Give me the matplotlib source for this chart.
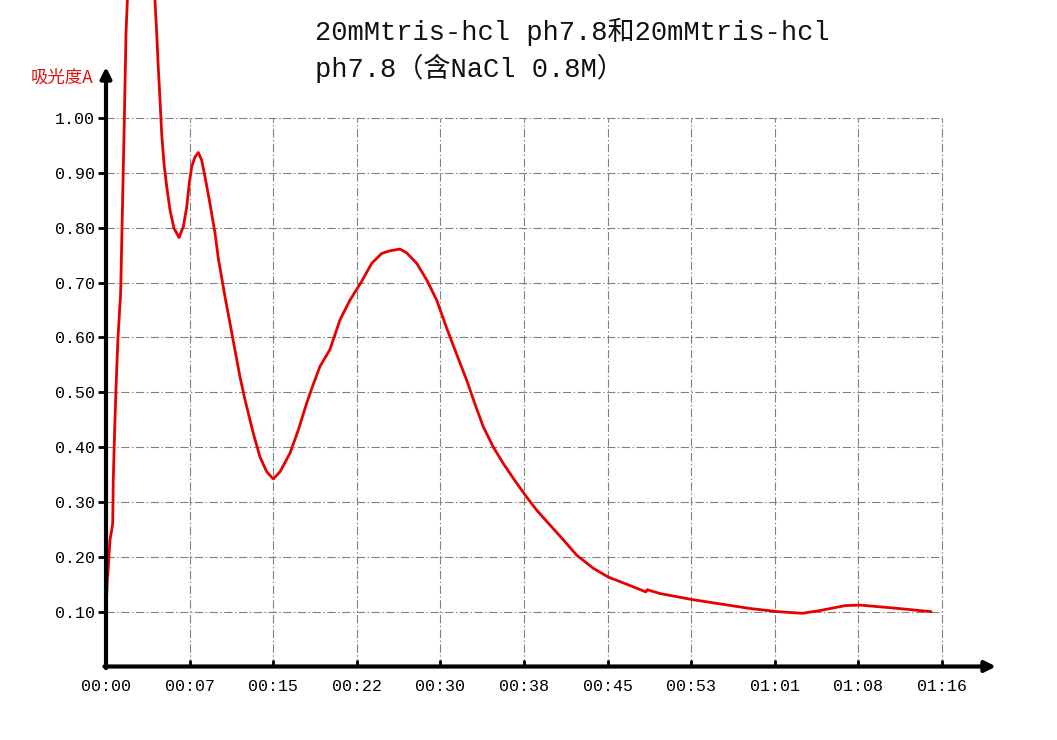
import matplotlib
matplotlib.use("Agg")
import matplotlib.pyplot as plt

plt.rcParams['lines.scale_dashes'] = False

title_line1 = "20mMtris-hcl ph7.8和20mMtris-hcl"
title_line2 = "ph7.8（含NaCl 0.8M）"
y_label = "吸光度A"

x_tick_minutes = [0, 7.6, 15.2, 22.8, 30.4, 38.0, 45.6, 53.2, 60.8, 68.4, 76.0]
x_tick_labels = ["00:00", "00:07", "00:15", "00:22", "00:30", "00:38",
                 "00:45", "00:53", "01:01", "01:08", "01:16"]
y_tick_values = [0.10, 0.20, 0.30, 0.40, 0.50, 0.60, 0.70, 0.80, 0.90, 1.00]
y_tick_labels = ["0.10", "0.20", "0.30", "0.40", "0.50", "0.60", "0.70", "0.80", "0.90", "1.00"]

time_min = [0.0, 0.12, 0.21, 0.36, 0.52, 0.61, 0.66, 0.80, 0.95, 1.09, 1.33, 1.51,
            1.67, 1.82, 1.94, 2.2, 2.6, 3.2, 3.8, 4.2, 4.45, 4.61, 4.75, 4.91,
            5.06, 5.27, 5.52, 5.82, 6.18, 6.64, 7.03, 7.34, 7.57, 7.79, 8.09, 8.39,
            8.70, 9.0, 9.45, 9.91, 10.21, 10.82, 11.27, 12.18, 12.64, 13.39, 14.0, 14.61,
            15.21, 15.82, 16.73, 17.48, 18.24, 18.8, 19.45, 20.36, 21.27, 22.18, 23.24,
            24.15, 25.06, 25.82, 26.73, 27.34, 28.25, 29.15, 30.06, 30.97, 31.9, 32.79,
            33.55, 34.3, 35.21, 36.12, 37.03, 38.09, 39.15, 40.36, 41.57, 42.79, 44.3,
            45.67, 47.46, 49.08, 49.2, 50.37, 53.29, 58.46, 61.05, 63.3, 64.9, 67.2,
            68.5, 71.4, 75.0]
absorbance = [0.101, 0.158, 0.182, 0.231, 0.249, 0.261, 0.340, 0.440, 0.530, 0.600, 0.680, 0.850,
              1.000, 1.155, 1.215, 1.270, 1.310, 1.340, 1.310, 1.260, 1.215, 1.155, 1.093, 1.033,
              0.972, 0.917, 0.875, 0.832, 0.799, 0.782, 0.802, 0.838, 0.881, 0.911, 0.929, 0.937,
              0.923, 0.893, 0.844, 0.790, 0.744, 0.674, 0.626, 0.528, 0.486, 0.425, 0.382, 0.355,
              0.342, 0.355, 0.389, 0.431, 0.480, 0.512, 0.547, 0.578, 0.632, 0.668, 0.702,
              0.735, 0.753, 0.758, 0.761, 0.754, 0.735, 0.705, 0.668, 0.617, 0.568, 0.522,
              0.478, 0.437, 0.400, 0.370, 0.343, 0.313, 0.285, 0.258, 0.231, 0.203, 0.179,
              0.163, 0.149, 0.136, 0.140, 0.133, 0.122, 0.106, 0.100, 0.097, 0.102, 0.111,
              0.112, 0.107, 0.100]

W, H = 1057, 740
fig = plt.figure(figsize=(W / 100, H / 100), dpi=100)
fig.patch.set_facecolor('white')

x0_px, y0_px = 106, 666.5
px_per_min = 836 / 76.0
px_per_unit = 548.5
ax = fig.add_axes([x0_px / W, (H - y0_px) / H, 1 - x0_px / W, y0_px / H])
ax.set_xlim(0, (W - x0_px) / px_per_min)
ax.set_ylim(0, y0_px / px_per_unit)
for s in ax.spines.values():
    s.set_visible(False)
ax.set_facecolor('none')

mono = ['Liberation Mono', 'Noto Sans CJK SC']
grid_ls = (0, (6, 1.8, 1, 1.8))
ax.hlines(y_tick_values, 0, x_tick_minutes[-1], colors='#808080', lw=0.8, linestyles=[grid_ls], zorder=1)
ax.vlines(x_tick_minutes[1:], 0, y_tick_values[-1], colors='#808080', lw=0.8, linestyles=[grid_ls], zorder=1)

ax.plot(time_min, absorbance, color='#e60000', lw=2.0, zorder=3,
        solid_joinstyle='round', solid_capstyle='round')

ax.set_xticks(x_tick_minutes)
ax.set_xticklabels(x_tick_labels, fontfamily=mono, fontsize=12)
ax.set_yticks(y_tick_values)
ax.set_yticklabels(y_tick_labels, fontfamily=mono, fontsize=12)
ax.tick_params(axis='x', direction='in', length=5, width=2, pad=9, color='black')
ax.tick_params(axis='y', direction='out', length=6, width=2, pad=2, color='black')

# axes with arrows
x_end = (996 - x0_px) / px_per_min
y_end = (y0_px - 67) / px_per_unit
ax.annotate('', xy=(x_end, 0), xytext=(-0.15, 0), xycoords='data',
            arrowprops=dict(arrowstyle='-|>', lw=3, color='black', mutation_scale=16,
                            shrinkA=0, shrinkB=0), annotation_clip=False, zorder=5)
ax.annotate('', xy=(0, y_end), xytext=(0, -0.003), xycoords='data',
            arrowprops=dict(arrowstyle='-|>', lw=3, color='black', mutation_scale=16,
                            shrinkA=0, shrinkB=0), annotation_clip=False, zorder=5)

fig.text(93 / W, 1 - 78 / H, y_label, color='#dd1111', fontsize=12.5,
         fontfamily=['Noto Sans CJK SC', 'DejaVu Sans'], ha='right', va='center')

fig.text(315 / W, 1 - 40 / H, title_line1, fontsize=19.5, fontfamily=mono,
         ha='left', va='baseline', color='#111111')
fig.text(315 / W, 1 - 77 / H, title_line2, fontsize=19.5, fontfamily=mono,
         ha='left', va='baseline', color='#111111')

fig.savefig('out.png', dpi=100, facecolor='white')
